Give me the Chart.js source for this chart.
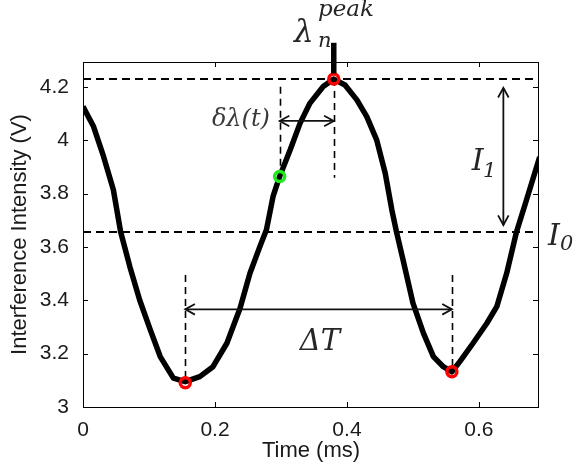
<!DOCTYPE html>
<html><head><meta charset="utf-8">
<script src="https://cdn.jsdelivr.net/npm/chart.js@4.4.0/dist/chart.umd.min.js"></script>
<style>html,body{margin:0;padding:0;background:#fff}canvas{display:block}</style>
</head><body>
<canvas id="c" width="574" height="473"></canvas>
<script>
// ---- data ----
const timeMs = [0.000,0.016,0.031,0.046,0.057,0.071,0.086,0.102,0.117,0.137,0.155,0.177,0.197,0.218,0.238,0.253,0.268,0.278,0.288,0.298,0.314,0.329,0.344,0.364,0.380,0.397,0.415,0.430,0.445,0.458,0.468,0.475,0.485,0.500,0.516,0.531,0.546,0.559,0.571,0.591,0.612,0.627,0.642,0.657,0.672,0.692];
const intensity = [4.126,4.051,3.940,3.814,3.657,3.526,3.400,3.289,3.189,3.108,3.095,3.114,3.151,3.239,3.370,3.501,3.601,3.664,3.789,3.864,3.964,4.064,4.139,4.201,4.229,4.207,4.151,4.088,4.001,3.876,3.739,3.657,3.551,3.389,3.276,3.189,3.151,3.132,3.170,3.239,3.314,3.376,3.501,3.657,3.776,3.937];
const xTicks = [0, 0.2, 0.4, 0.6];
const yTicks = [3, 3.2, 3.4, 3.6, 3.8, 4, 4.2];
const xRange = [0, 0.691];
const yRange = [3, 4.293];
const peakT = [0.380], peakV = [4.229];
const troughT = [0.155, 0.559], troughV = [3.091, 3.132];
const currentT = [0.298], currentV = [3.864];
// dashed reference levels (I_peak, I_0)
const levelV = [4.229, 3.657];
// vertical dashed guides
const guideT = [0.298, 0.380, 0.155, 0.559];
const guideFrom = [4.200, 4.229, 3.495, 3.495];
const guideTo = [3.864, 3.859, 3.091, 3.132];
// double arrows: δλ, ΔT, I1
const arrowT1 = [0.298, 0.155, 0.637];
const arrowV1 = [4.072, 3.366, 4.196];
const arrowT2 = [0.380, 0.559, 0.637];
const arrowV2 = [4.072, 3.366, 3.682];
// peak stem above axes
const stemT = [0.380], stemV1 = [4.365], stemV2 = [4.250];

const toXY = (xs, ys) => xs.map((x, i) => ({x, y: ys[i]}));

const overlay = {
  id: 'overlay',
  beforeDatasetsDraw(chart) {
    const {ctx, chartArea: a, scales: {x, y}} = chart;
    ctx.save();
    ctx.strokeStyle = '#000';
    ctx.lineWidth = 2;
    ctx.setLineDash([8, 5]);
    levelV.forEach(v => {
      const py = Math.round(y.getPixelForValue(v));
      ctx.beginPath(); ctx.moveTo(a.left, py); ctx.lineTo(a.right, py); ctx.stroke();
    });
    ctx.lineWidth = 1.6;
    ctx.setLineDash([7, 5]);
    guideT.forEach((t, i) => {
      const px = Math.round(x.getPixelForValue(t)) + 0.5;
      ctx.beginPath();
      ctx.moveTo(px, y.getPixelForValue(guideFrom[i]));
      ctx.lineTo(px, y.getPixelForValue(guideTo[i]));
      ctx.stroke();
    });
    ctx.restore();
  },
  afterDatasetsDraw(chart) {
    const {ctx, chartArea: a, scales: {x, y}} = chart;
    ctx.save();
    // arrows
    ctx.strokeStyle = '#111';
    ctx.lineWidth = 1.8;
    ctx.setLineDash([]);
    const head = (tx, ty, ang) => {
      const L = 11, w = 0.5;
      ctx.beginPath();
      ctx.moveTo(tx + L * Math.cos(ang + w), ty + L * Math.sin(ang + w));
      ctx.lineTo(tx, ty);
      ctx.lineTo(tx + L * Math.cos(ang - w), ty + L * Math.sin(ang - w));
      ctx.stroke();
    };
    arrowT1.forEach((t, i) => {
      const x1 = x.getPixelForValue(t), y1 = y.getPixelForValue(arrowV1[i]);
      const x2 = x.getPixelForValue(arrowT2[i]), y2 = y.getPixelForValue(arrowV2[i]);
      ctx.beginPath(); ctx.moveTo(x1, y1); ctx.lineTo(x2, y2); ctx.stroke();
      const ang = Math.atan2(y2 - y1, x2 - x1);
      head(x1, y1, ang);
      head(x2, y2, ang + Math.PI);
    });
    // peak stem
    ctx.lineWidth = 5.5;
    ctx.strokeStyle = '#000';
    stemT.forEach((t, i) => {
      const px = x.getPixelForValue(t);
      ctx.beginPath();
      ctx.moveTo(px, y.getPixelForValue(stemV1[i]));
      ctx.lineTo(px, y.getPixelForValue(stemV2[i]));
      ctx.stroke();
    });
    // axes box
    ctx.lineWidth = 1;
    ctx.strokeStyle = '#000';
    ctx.strokeRect(Math.round(a.left) + 0.5, Math.round(a.top) + 0.5,
                   Math.round(a.right - a.left) - 1, Math.round(a.bottom - a.top));
    // inward ticks on all sides
    const tl = 5;
    ctx.beginPath();
    yTicks.forEach(v => {
      const py = Math.round(y.getPixelForValue(v)) + 0.5;
      ctx.moveTo(a.left, py); ctx.lineTo(a.left + tl, py);
      ctx.moveTo(a.right - 1, py); ctx.lineTo(a.right - 1 - tl, py);
    });
    xTicks.forEach(v => {
      const px = Math.round(x.getPixelForValue(v)) + 0.5;
      ctx.moveTo(px, a.bottom); ctx.lineTo(px, a.bottom - tl);
      ctx.moveTo(px, a.top); ctx.lineTo(px, a.top + tl);
    });
    ctx.stroke();
    // math labels
    ctx.fillStyle = '#262626';
    ctx.textBaseline = 'alphabetic';
    const put = (txt, t, v, size, align) => {
      ctx.font = 'italic ' + size + 'px "DejaVu Serif"';
      ctx.textAlign = align || 'left';
      ctx.fillText(txt, x.getPixelForValue(t), y.getPixelForValue(v));
    };
    put('λ', 0.3197, 4.369, 31);
    put('n', 0.356, 4.350, 21);
    put('peak', 0.356, 4.466, 23);
    ctx.fillStyle = '#3a3a3a';
    ctx.textBaseline = 'middle';
    put('δλ(t)', 0.2833, 4.076, 24, 'right');
    ctx.fillStyle = '#262626';
    ctx.textBaseline = 'alphabetic';
    put('I', 0.589, 3.889, 30);
    put('1', 0.606, 3.862, 21);
    put('I', 0.7045, 3.607, 30);
    put('0', 0.7227, 3.589, 21);
    put('ΔT', 0.359, 3.214, 29, 'center');
    ctx.restore();
  }
};

new Chart(document.getElementById('c'), {
  type: 'line',
  data: {
    datasets: [
      {data: toXY(peakT, peakV), type: 'scatter', order: 0, pointRadius: 5, pointBorderWidth: 3.5,
       pointBorderColor: '#ff0000', pointBackgroundColor: 'rgba(0,0,0,0)', showLine: false},
      {data: toXY(troughT, troughV), type: 'scatter', order: 0, pointRadius: 5, pointBorderWidth: 3.5,
       pointBorderColor: '#ff0000', pointBackgroundColor: 'rgba(0,0,0,0)', showLine: false},
      {data: toXY(currentT, currentV), type: 'scatter', order: 0, pointRadius: 5, pointBorderWidth: 3.5,
       pointBorderColor: '#1ee81e', pointBackgroundColor: 'rgba(0,0,0,0)', showLine: false},
      {data: toXY(timeMs, intensity), order: 1, borderColor: '#000', borderWidth: 5.5,
       pointRadius: 0, tension: 0, fill: false, borderJoinStyle: 'round'}
    ]
  },
  options: {
    responsive: false,
    animation: false,
    devicePixelRatio: 1,
    layout: {padding: {left: 0, top: 62, right: 35, bottom: 0}},
    plugins: {legend: {display: false}, tooltip: {enabled: false}},
    scales: {
      x: {
        type: 'linear', min: xRange[0], max: xRange[1],
        grid: {display: false}, border: {display: false},
        afterBuildTicks: s => { s.ticks = xTicks.map(v => ({value: v})); },
        afterFit: s => { s.height = 66; },
        ticks: {autoSkip: false, maxRotation: 0, padding: 3, color: '#1a1a1a',
                font: {family: '"Liberation Sans", Arial', size: 21},
                callback: v => String(v)},
        title: {display: true, text: 'Time (ms)', color: '#1a1a1a', padding: {top: 0, bottom: 9},
                font: {family: '"Liberation Sans", Arial', size: 22}}
      },
      y: {
        type: 'linear', min: yRange[0], max: yRange[1],
        grid: {display: false}, border: {display: false},
        afterBuildTicks: s => { s.ticks = yTicks.map(v => ({value: v})); },
        afterFit: s => { s.width = 83; },
        ticks: {autoSkip: false, padding: 6, color: '#1a1a1a',
                font: {family: '"Liberation Sans", Arial', size: 21},
                callback: v => String(v)},
        title: {display: true, text: 'Interference Intensity (V)', color: '#1a1a1a', padding: {top: 7, bottom: 0},
                font: {family: '"Liberation Sans", Arial', size: 22}}
      }
    }
  },
  plugins: [overlay]
});
</script>
</body></html>
